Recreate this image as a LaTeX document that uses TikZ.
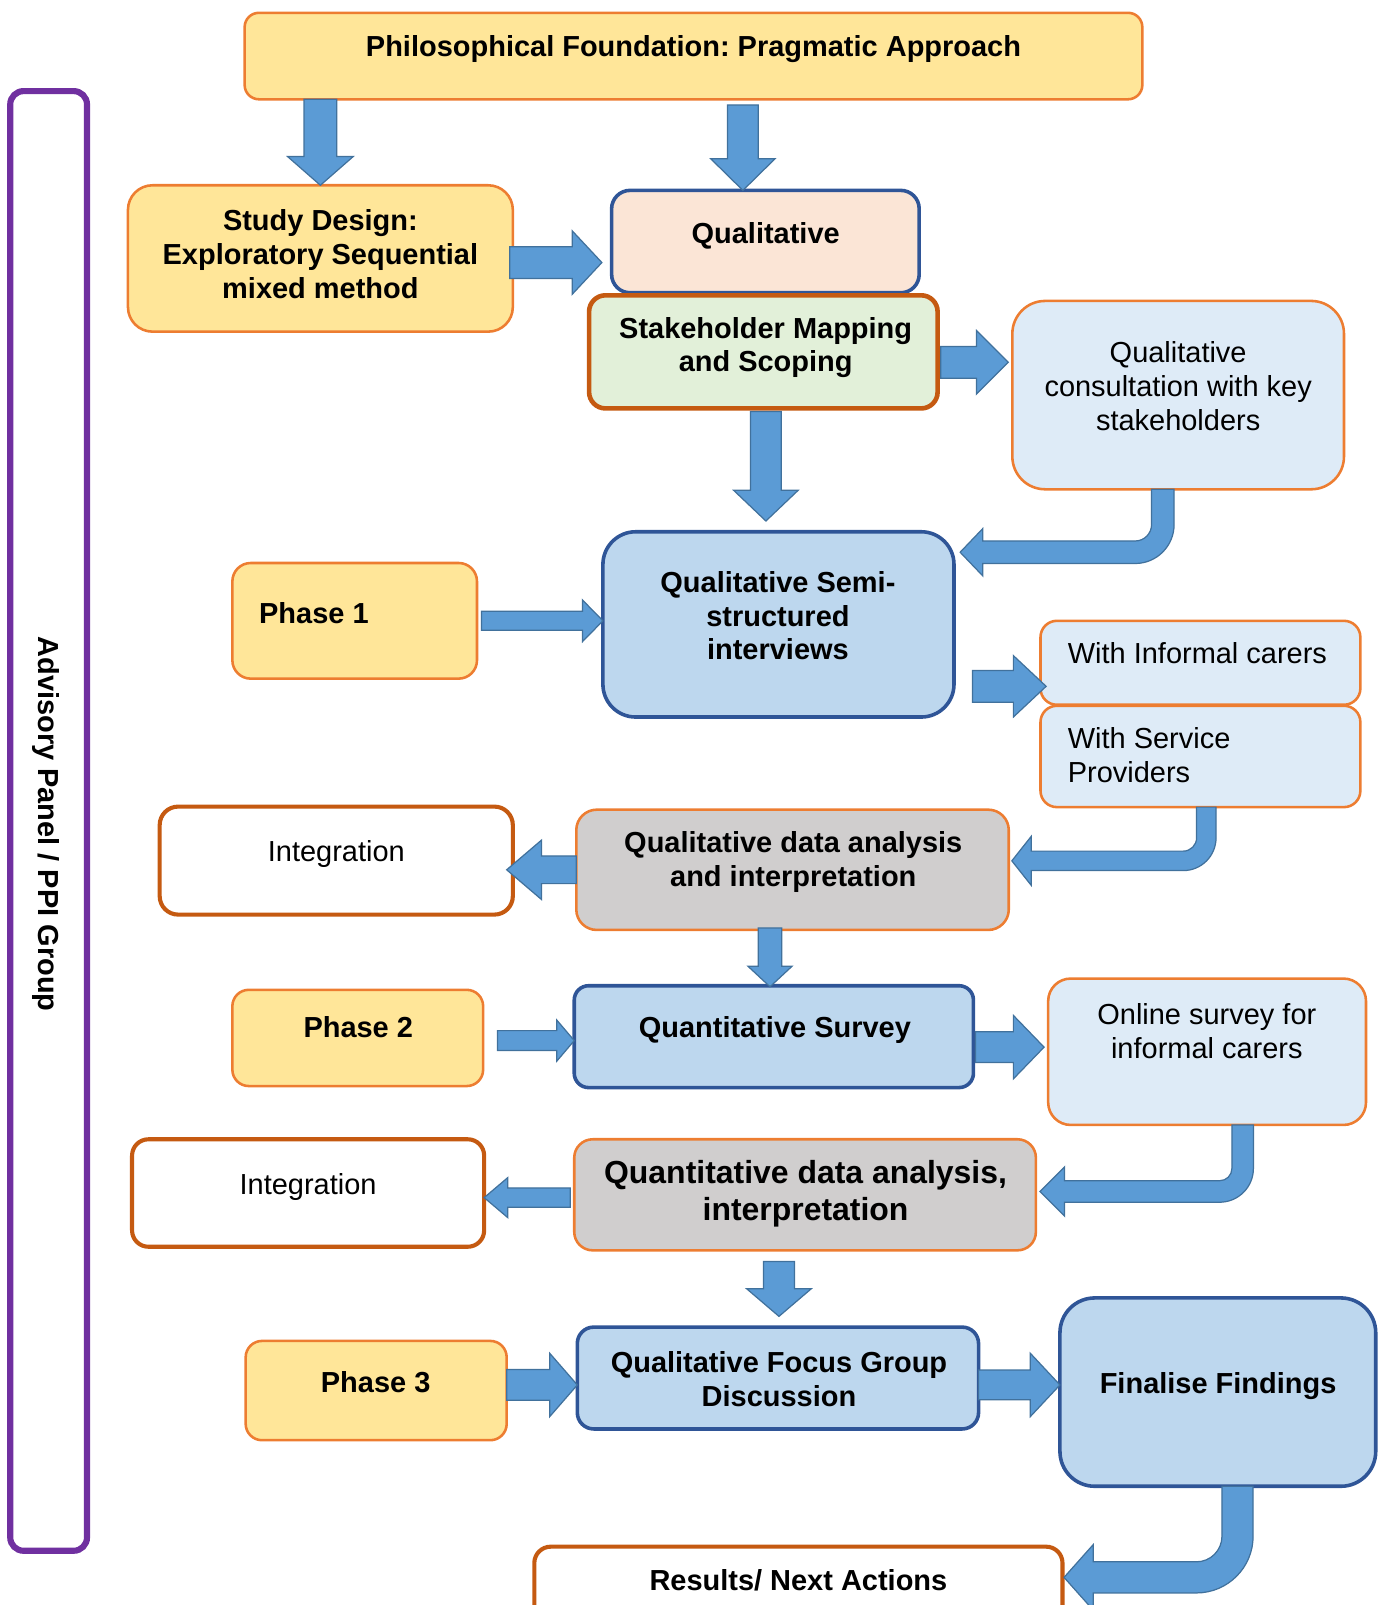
\documentclass[tikz,border=0pt]{standalone}
\usepackage{fontspec}
\setmainfont{Liberation Sans}
\usetikzlibrary{calc}
\frenchspacing

\definecolor{ylw}{HTML}{FFE699}
\definecolor{org}{HTML}{ED7D31}
\definecolor{dorg}{HTML}{C55A11}
\definecolor{peach}{HTML}{FBE5D6}
\definecolor{mint}{HTML}{E2F0D9}
\definecolor{pale}{HTML}{DEEBF7}
\definecolor{sky}{HTML}{BDD7EE}
\definecolor{navy}{HTML}{2F5597}
\definecolor{stone}{HTML}{D0CECE}
\definecolor{afill}{HTML}{5B9BD5}
\definecolor{aline}{HTML}{41719C}
\definecolor{panelpurple}{HTML}{7030A0}

\newcommand{\labelsize}{\fontsize{28.3pt}{33pt}\selectfont}
\newcommand{\biglabelsize}{\fontsize{31.2pt}{36pt}\selectfont}

% box from its top-left corner (#3,#4) to its bottom-right corner (#5,#6)
\newcommand{\boxnode}[6]{%
  \node[#1, minimum width={(#5-#3)*1pt}, minimum height={(#6-#4)*1pt}] (#2) at (#3,#4) {};}

% straight block arrow: tail #1, tip #2, shaft half width #3, head half width #4, head length #5
\newcommand{\blockarrow}[5]{%
  \coordinate (bahead) at ($(#2)!#5pt!(#1)$);
  \draw[arrowbody] ($(#1)!#3pt!90:(#2)$) -- ($(bahead)!#3pt!90:(#2)$) -- ($(bahead)!#4pt!90:(#2)$)
    -- (#2) -- ($(bahead)!#4pt!-90:(#2)$) -- ($(bahead)!#3pt!-90:(#2)$) -- ($(#1)!#3pt!-90:(#2)$) -- cycle;}

% bent block arrow (down, then left): start = left edge of the vertical shaft at its top,
% #2 shaft half width, #3 straight drop, #4 straight run, #5 head half width, #6 head length, #7 inner radius
\newcommand{\bentarrow}[7]{%
  \draw[arrowbody] (#1) -- ++(0,#3) arc[start angle=0,end angle=90,radius=#7] -- ++(-#4,0)
    -- ++(0,{-(#5-#2)}) -- ++(-#6,#5) -- ++(#6,#5) -- ++(0,{-(#5-#2)}) -- ++(#4,0)
    arc[start angle=90,end angle=0,radius={#7+2*#2}] -- ++(0,-#3) -- cycle;}

\tikzset{
  boxbase/.style={draw, anchor=north west, outer sep=0pt, inner sep=0pt},
  yellowbox/.style={boxbase, fill=ylw, draw=org, line width=2.5pt},
  peachbox/.style={boxbase, fill=peach, draw=navy, line width=3.5pt},
  mintbox/.style={boxbase, fill=mint, draw=dorg, line width=4.5pt},
  palebox/.style={boxbase, fill=pale, draw=org, line width=2.5pt},
  skybox/.style={boxbase, fill=sky, draw=navy, line width=3.5pt},
  stonebox/.style={boxbase, fill=stone, draw=org, line width=2.5pt},
  plainbox/.style={boxbase, fill=white, draw=dorg, line width=4pt},
  panelbox/.style={boxbase, draw=panelpurple, line width=6pt},
  arrowbody/.style={fill=afill, draw=aline, line width=1.2pt, line join=miter},
  txt/.style={inner sep=0pt, align=center, font=\labelsize\bfseries},
  txtr/.style={inner sep=0pt, align=center, font=\labelsize},
  oneline/.style={text height=20.5pt, text depth=6pt},
}

\begin{document}
\begin{tikzpicture}[x=1pt,y=-1pt]
\useasboundingbox (0,0) rectangle (1353,1568);

% ---- boxes ----
\boxnode{panelbox, rounded corners=13pt}{panel}{10}{89}{85}{1515}
\boxnode{yellowbox, rounded corners=14pt}{phil}{239}{12.5}{1116}{97}
\boxnode{yellowbox, rounded corners=24pt}{study}{125}{181}{501}{324}
\boxnode{peachbox, rounded corners=18pt}{qual}{597.5}{186}{898}{286}
\boxnode{mintbox, rounded corners=16pt}{stake}{575.5}{288.5}{916}{399}
\boxnode{palebox, rounded corners=32pt}{consult}{989}{294}{1313}{478}
\boxnode{yellowbox, rounded corners=18pt}{phase1}{227}{550}{466}{663}
\boxnode{skybox, rounded corners=32pt}{semi}{589}{519.5}{932}{700.5}
\boxnode{palebox, rounded corners=16pt}{informal}{1016.5}{606.5}{1329}{688.5}
\boxnode{palebox, rounded corners=16pt}{service}{1016.5}{689.5}{1329}{788.5}
\boxnode{plainbox, rounded corners=18pt}{int1}{156}{788}{501}{893.5}
\boxnode{stonebox, rounded corners=20pt}{qda}{563}{791}{985.5}{908.5}
\boxnode{yellowbox, rounded corners=16pt}{phase2}{227}{967}{472}{1061}
\boxnode{skybox, rounded corners=14pt}{qsurvey}{561}{963}{951}{1062.5}
\boxnode{palebox, rounded corners=22pt}{online}{1024}{956}{1334.5}{1099}
\boxnode{plainbox, rounded corners=16pt}{int2}{129}{1113}{473}{1218}
\boxnode{stonebox, rounded corners=18pt}{qda2}{561}{1113}{1012}{1221.5}
\boxnode{yellowbox, rounded corners=16pt}{phase3}{240}{1310}{495}{1407}
\boxnode{skybox, rounded corners=16pt}{qfgd}{564}{1296.5}{956}{1396}
\boxnode{skybox, rounded corners=34pt}{ff}{1035.5}{1268}{1344}{1452}
\boxnode{plainbox, rounded corners=16pt}{results}{522}{1511}{1038}{1600}

% ---- straight block arrows ----
\coordinate (a1t) at (phil.south -| study.north);
\coordinate (a1h) at (study.north);
\blockarrow{a1t}{a1h}{16}{32}{28}

\coordinate (a2t) at ($(phil.south -| qual.north)+(-22,5.5)$);
\coordinate (a2h) at ($(qual.north)+(-22,0)$);
\blockarrow{a2t}{a2h}{15}{31.5}{31}

\coordinate (a3t) at ($(study.east)+(-3,4)$);
\coordinate (a3h) at ($(a3t -| qual.west)+(-9.5,0)$);
\blockarrow{a3t}{a3h}{15.5}{31}{29}

\coordinate (a4t) at ($(stake.east)+(3,10.25)$);
\coordinate (a4h) at ($(a4t -| consult.west)+(-4,0)$);
\blockarrow{a4t}{a4h}{15.5}{31}{31}

\coordinate (a5t) at ($(stake.south)+(2.5,3)$);
\coordinate (a5h) at ($(a5t |- semi.north)+(0,-10.5)$);
\blockarrow{a5t}{a5h}{15}{31.5}{30}

\coordinate (a7t) at ($(phase1.east)+(4.5,0)$);
\coordinate (a7h) at (a7t -| semi.west);
\blockarrow{a7t}{a7h}{9.3}{20.4}{20}

\coordinate (a8t) at ($(semi.east)+(18,60.5)$);
\coordinate (a8h) at ($(a8t -| informal.west)+(5.5,0)$);
\blockarrow{a8t}{a8h}{15.5}{30}{32}

\coordinate (a9t) at (qda.west);
\coordinate (a9h) at ($(qda.west -| int1.east)+(-6,0)$);
\blockarrow{a9t}{a9h}{13.5}{29}{34}

\coordinate (a10t) at ($(qda.south)+(-22,-2)$);
\coordinate (a10h) at ($(a10t |- qsurvey.north)+(0,1)$);
\blockarrow{a10t}{a10h}{11.5}{21.5}{20}

\coordinate (a11t) at ($(phase2.east)+(14,2.6)$);
\coordinate (a11h) at (a11t -| qsurvey.west);
\blockarrow{a11t}{a11h}{9.75}{20}{17}

\coordinate (a12t) at ($(qsurvey.east)+(2,10.25)$);
\coordinate (a12h) at ($(a12t -| online.west)+(-4,0)$);
\blockarrow{a12t}{a12h}{15}{31}{30}

\coordinate (a13t) at ($(qda2.west)+(-4,2.75)$);
\coordinate (a13h) at (a13t -| int2.east);
\blockarrow{a13t}{a13h}{9.5}{19.5}{23}

\coordinate (a14t) at ($(qda2.south)+(-25.5,11)$);
\coordinate (a14h) at ($(a14t |- qfgd.north)+(0,-10.5)$);
\blockarrow{a14t}{a14h}{15.2}{31.6}{27}

\coordinate (a15t) at ($(phase3.east)+(0,-5.5)$);
\coordinate (a15h) at (a15t -| qfgd.west);
\blockarrow{a15t}{a15h}{15}{31}{27}

\coordinate (a16t) at (a15t -| qfgd.east);
\coordinate (a16h) at (a15t -| ff.west);
\blockarrow{a16t}{a16h}{14.5}{31}{29}

% ---- bent block arrows ----
\coordinate (b1) at ($(consult.south)+(-26,0)$);
\bentarrow{b1}{11}{34.5}{149}{23}{22}{16}
\coordinate (b2) at ($(service.south)+(-3.75,0)$);
\bentarrow{b2}{9.5}{30}{148.5}{24}{19}{13}
\coordinate (b3) at ($(online.south)+(24.25,0)$);
\bentarrow{b3}{10.5}{42.5}{151.5}{24}{24}{12}
\coordinate (b4) at ($(ff.south)+(4.05,0)$);
\bentarrow{b4}{15.2}{48.8}{100.8}{32}{28.5}{25}

% ---- texts ----
\node[txt, oneline] (phil-t) at (677.5,48.35) {Philosophical Foundation: Pragmatic Approach};
\node[txt] (study-t) at (313,248.5) {Study Design:\\Exploratory Sequential\\mixed method};
\node[txt, oneline] (qual-t) at (748,230.5) {Qualitative};
\node[txt] (stake-t) at (748,339.5) {Stakeholder Mapping\\and Scoping};
\node[txtr] (consult-t) at (1151,377) {Qualitative\\consultation with key\\stakeholders};
\node[txt, oneline, anchor=west] (phase1-t) at (253,601.75) {Phase 1};
\node[txt] (semi-t) at (760,601.5) {Qualitative Semi-\\structured\\interviews};
\node[txtr, oneline, anchor=west] (informal-t) at (1043,640.75) {With Informal carers};
\node[txtr, align=left, anchor=west] (service-t) at (1043,738) {With Service\\Providers};
\node[txtr, oneline] (int1-t) at (328.6,834.75) {Integration};
\node[txt] (qda-t) at (775,842.5) {Qualitative data analysis\\and interpretation};
\node[txt, oneline] (phase2-t) at (350,1006.75) {Phase 2};
\node[txt, oneline] (qsurvey-t) at (757,1006.75) {Quantitative Survey};
\node[txtr] (online-t) at (1179,1007.5) {Online survey for\\informal carers};
\node[txtr, oneline] (int2-t) at (301,1159.3) {Integration};
\node[txt, font=\biglabelsize\bfseries] (qda2-t) at (787,1166.5) {Quantitative data analysis,\\interpretation};
\node[txt, oneline] (phase3-t) at (367,1352.75) {Phase 3};
\node[txt] (qfgd-t) at (761,1347) {Qualitative Focus Group\\Discussion};
\node[txt, oneline] (ff-t) at (1190,1353.75) {Finalise Findings};
\node[txt, oneline] (results-t) at (780,1546.25) {Results/ Next Actions};
\node[txt, oneline, rotate=-90] (panel-t) at (44.5,805) {Advisory Panel / PPI Group};
\end{tikzpicture}
\end{document}
